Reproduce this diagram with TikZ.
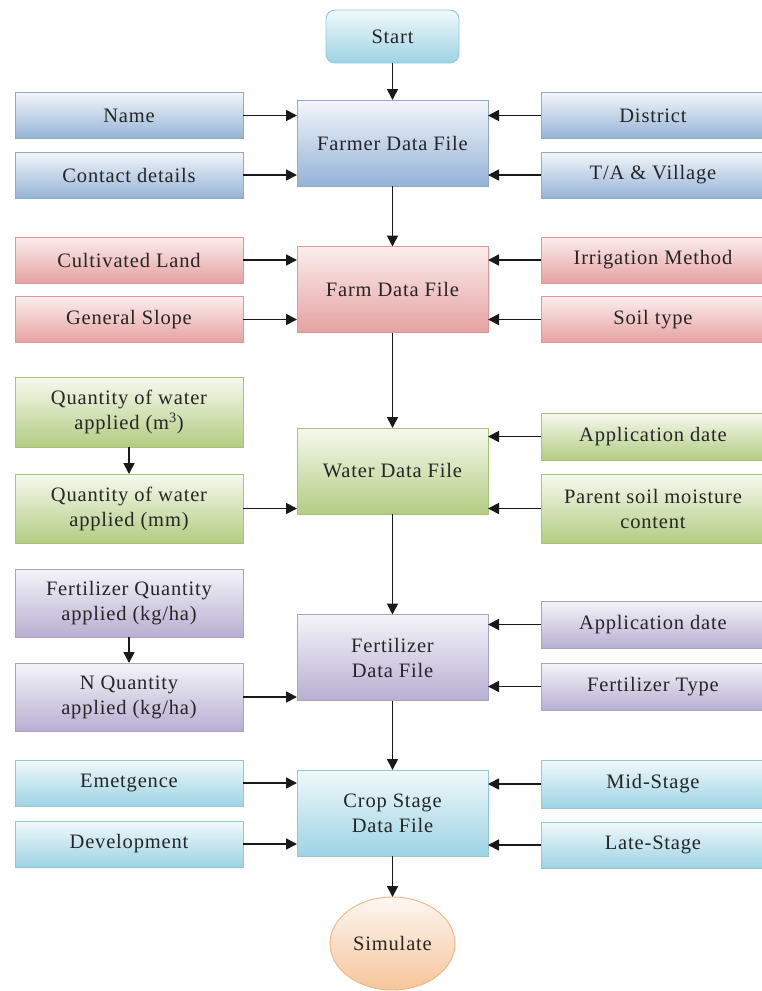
\documentclass[tikz,border=0pt]{standalone}
\usepackage{fontspec}
\setmainfont[LetterSpace=4]{Liberation Serif}
\usetikzlibrary{arrows.meta,shapes.geometric}
\definecolor{bluT}{HTML}{F3F6FA}\definecolor{bluB}{HTML}{95B3D7}\definecolor{bluD}{HTML}{8DAAD0}
\definecolor{redT}{HTML}{FBEDED}\definecolor{redB}{HTML}{E6A1A1}\definecolor{redD}{HTML}{E39696}
\definecolor{grnT}{HTML}{F6F9EF}\definecolor{grnB}{HTML}{B3CC82}\definecolor{grnD}{HTML}{A9C472}
\definecolor{purT}{HTML}{F5F4F9}\definecolor{purB}{HTML}{B7AFD2}\definecolor{purD}{HTML}{ABA2C9}
\definecolor{cyaT}{HTML}{F1F9FB}\definecolor{cyaB}{HTML}{9DD3E4}\definecolor{cyaD}{HTML}{8FCADC}
\definecolor{orgT}{HTML}{FDF7F2}\definecolor{orgB}{HTML}{F6C59B}\definecolor{orgD}{HTML}{F0B584}
\begin{document}
\begin{tikzpicture}[x=1pt,y=-1pt,
  box/.style={draw, line width=0.9pt, inner sep=0pt, outer sep=0pt, align=center,
    font=\fontsize{20.5}{25}\selectfont, text=black!85},
  lbox/.style={box, minimum width=228, minimum height=46},
  rbox/.style={box, minimum width=224, minimum height=46},
  mbox/.style={box, minimum width=191, minimum height=86},
  cblue/.style={top color=bluT, bottom color=bluB, draw=bluD},
  cred/.style={top color=redT, bottom color=redB, draw=redD},
  cgrn/.style={top color=grnT, bottom color=grnB, draw=grnD},
  cpur/.style={top color=purT, bottom color=purB, draw=purD},
  ccya/.style={top color=cyaT, bottom color=cyaB, draw=cyaD},
  corg/.style={top color=orgT, bottom color=orgB, draw=orgD},
  arr/.style={line width=1.7pt, black!90, -{Triangle[length=11pt,width=11pt]}}]
\useasboundingbox (0,0) rectangle (762,991);

% start
\node[box, ccya, rounded corners=9pt, minimum width=133, minimum height=53] (start) at (392.5,36.5) {Start};

% farmer
\node[mbox, cblue] (farmer) at (392.5,143) {Farmer Data File};
\node[lbox, cblue] (name) at (129,115.5) {Name};
\node[lbox, cblue] (contact) at (129,175) {Contact details};
\node[rbox, cblue] (district) at (653,115.5) {District};
\node[rbox, cblue] (ta) at (653,175) {T/A \& Village};

% farm
\node[mbox, cred] (farm) at (392.5,289.5) {Farm Data File};
\node[lbox, cred] (cult) at (129,260) {Cultivated Land};
\node[lbox, cred] (slope) at (129,319.5) {General Slope};
\node[rbox, cred] (irrig) at (653,260) {Irrigation Method};
\node[rbox, cred] (soil) at (653,319.5) {Soil type};

% water
\node[mbox, cgrn] (water) at (392.5,471) {Water Data File};
\node[lbox, cgrn, minimum height=70] (qm3) at (129,412) {Quantity of water\\applied (m\textsuperscript{3})};
\node[lbox, cgrn, minimum height=69] (qmm) at (129,508.5) {Quantity of water\\applied (mm)};
\node[rbox, cgrn, minimum height=47] (wdate) at (653,436.5) {Application date};
\node[rbox, cgrn, minimum height=69] (psm) at (653,508.5) {Parent soil moisture\\content};

% fertilizer
\node[mbox, cpur] (fert) at (392.5,657.5) {Fertilizer\\Data File};
\node[lbox, cpur, minimum height=68] (fq) at (129,603) {Fertilizer Quantity\\applied (kg/ha)};
\node[lbox, cpur, minimum height=68] (nq) at (129,697) {N Quantity\\applied (kg/ha)};
\node[rbox, cpur, minimum height=47] (fdate) at (653,624.5) {Application date};
\node[rbox, cpur, minimum height=47] (ftype) at (653,686.5) {Fertilizer Type};

% crop stage
\node[mbox, ccya] (crop) at (392.5,813) {Crop Stage\\Data File};
\node[lbox, ccya] (emet) at (129,783) {Emetgence};
\node[lbox, ccya] (dev) at (129,844) {Development};
\node[rbox, ccya, minimum height=48] (midst) at (653,784) {Mid-Stage};
\node[rbox, ccya, minimum height=46] (late) at (653,845) {Late-Stage};

% simulate
\node[box, corg, ellipse, minimum width=125, minimum height=93] (sim) at (392.5,943.5) {Simulate};

% vertical arrows
\draw[arr] (start.south) -- (farmer.north);
\draw[arr] (farmer.south) -- (farm.north);
\draw[arr] (farm.south) -- (water.north);
\draw[arr] (water.south) -- (fert.north);
\draw[arr] (fert.south) -- (crop.north);
\draw[arr] (crop.south) -- (sim.north);
\draw[arr] (qm3.south) -- (qmm.north);
\draw[arr] (fq.south) -- (nq.north);

% left inputs
\foreach \s/\t in {name/farmer, contact/farmer, cult/farm, slope/farm, qmm/water, nq/fert, emet/crop, dev/crop}
  \draw[arr] (\s.east) -- (\s.east -| \t.west);
% right inputs
\foreach \s/\t in {district/farmer, ta/farmer, irrig/farm, soil/farm, wdate/water, psm/water, fdate/fert, ftype/fert, midst/crop, late/crop}
  \draw[arr] (\s.west) -- (\s.west -| \t.east);
\end{tikzpicture}
\end{document}
